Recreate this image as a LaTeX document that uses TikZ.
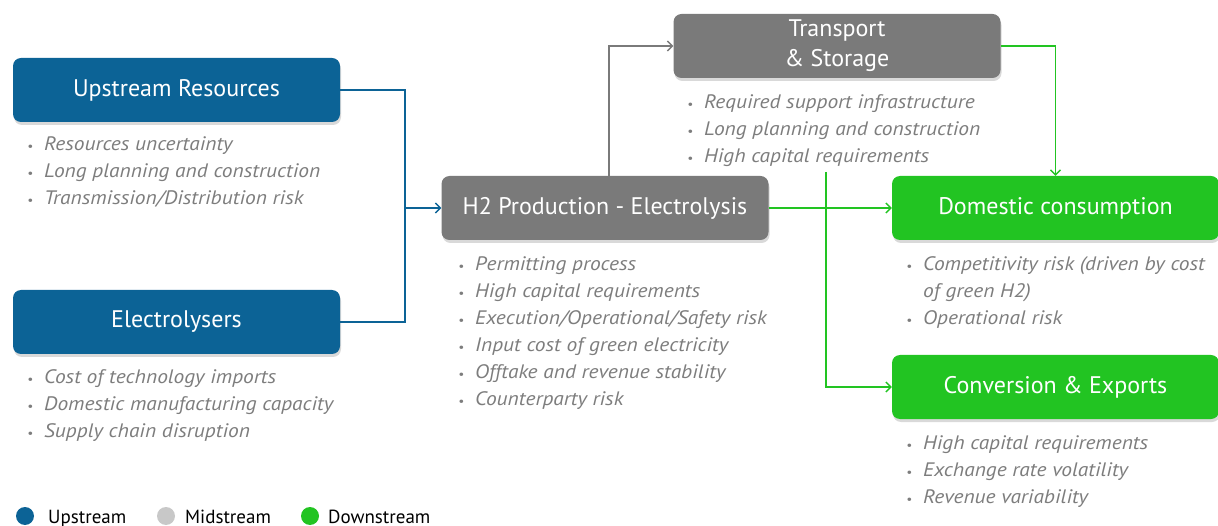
\documentclass[tikz,border=0pt]{standalone}
\usepackage{fontspec}
\setmainfont{PT Sans}
\usetikzlibrary{shadows,arrows.meta}

\definecolor{upblue}{RGB}{12,99,150}
\definecolor{midgray}{RGB}{122,122,122}
\definecolor{downgreen}{RGB}{34,196,34}
\definecolor{riskgray}{RGB}{125,125,125}
\definecolor{legendgray}{RGB}{200,200,200}

\newcommand{\bul}{{\fontsize{12}{12}\selectfont\textbullet}}
\newcommand{\risklist}[1]{\begin{tabular}[t]{@{}l@{\hspace{11pt}}l@{}}#1\end{tabular}}

\begin{document}
\begin{tikzpicture}[
      x=1pt, y=-1pt,
      stage/.style={rectangle, rounded corners=8pt, minimum width=327pt, minimum height=64pt,
        text=white, font=\fontsize{24}{30}\selectfont, align=center, inner sep=0pt,
        drop shadow={shadow xshift=1pt, shadow yshift=-3pt, opacity=0.3}},
      upbox/.style={stage, fill=upblue},
      midbox/.style={stage, fill=midgray},
      downbox/.style={stage, fill=downgreen},
      risks/.style={anchor=base west, inner sep=0pt, text=riskgray,
        font=\fontsize{19.5}{27}\selectfont\itshape\addfontfeature{FakeStretch=1.1}},
      link/.style={line width=1.4pt, -{Straight Barb[length=5pt,width=10pt]}},
      uplink/.style={link, draw=upblue},
      midlink/.style={link, draw=midgray},
      downlink/.style={link, draw=downgreen},
      legend/.style={anchor=base west, inner sep=0pt, font=\fontsize{19}{19}\selectfont}
      ]
      \useasboundingbox (0,0) rectangle (1218,526);

      % stages
      \node[upbox] (upstream) at (176.5,90) {Upstream Resources};
      \node[upbox] (electro) at (176.5,322) {Electrolysers};
      \node[midbox] (production) at (605,208) {H2 Production - Electrolysis};
      \node[midbox] (transport) at (837,46) {Transport\\\& Storage};
      \node[downbox] (domestic) at (1055.5,208) {Domestic consumption};
      \node[downbox] (conversion) at (1055.5,387) {Conversion \& Exports};

      % risks
      \node[risks] (upstreamrisks) at (27,151) {\risklist{
        \bul & Resources uncertainty\\
        \bul & Long planning and construction\\
        \bul & Transmission/Distribution risk}};
      \node[risks] (electrorisks) at (27,384) {\risklist{
        \bul & Cost of technology imports\\
        \bul & Domestic manufacturing capacity\\
        \bul & Supply chain disruption}};
      \node[risks] (productionrisks) at (458,271) {\risklist{
        \bul & Permitting process\\
        \bul & High capital requirements\\
        \bul & Execution/Operational/Safety risk\\
        \bul & Input cost of green electricity\\
        \bul & Offtake and revenue stability\\
        \bul & Counterparty risk}};
      \node[risks] (transportrisks) at (687,109) {\risklist{
        \bul & Required support infrastructure\\
        \bul & Long planning and construction\\
        \bul & High capital requirements}};
      \node[risks] (domesticrisks) at (906,271) {\risklist{
        \bul & Competitivity risk (driven by cost\\
             & of green H2)\\
        \bul & Operational risk}};
      \node[risks] (conversionrisks) at (906,449) {\risklist{
        \bul & High capital requirements\\
        \bul & Exchange rate volatility\\
        \bul & Revenue variability}};

      % connectors
      \coordinate (upjoin) at (405,208);
      \coordinate (branch) at (826,172);
      \draw[uplink, -] (upstream.east) -| (upjoin);
      \draw[uplink, -] (electro.east) -| (upjoin);
      \draw[uplink] (upjoin) -- (production.west);
      \draw[midlink] ([xshift=4pt]production.north) |- (transport.west);
      \draw[downlink] (transport.east) -| (domestic.north);
      \draw[downlink] (production.east) -- (domestic.west);
      \draw[downlink] (branch) |- (conversion.west);

      % legend
      \fill[upblue] (25,516) circle (9);
      \node[legend] (upleg) at (48,523) {Upstream};
      \fill[legendgray] (166,516) circle (9);
      \node[legend] (midleg) at (185,523) {Midstream};
      \fill[downgreen] (310,516) circle (9);
      \node[legend] (downleg) at (328,523) {Downstream};
\end{tikzpicture}
\end{document}
